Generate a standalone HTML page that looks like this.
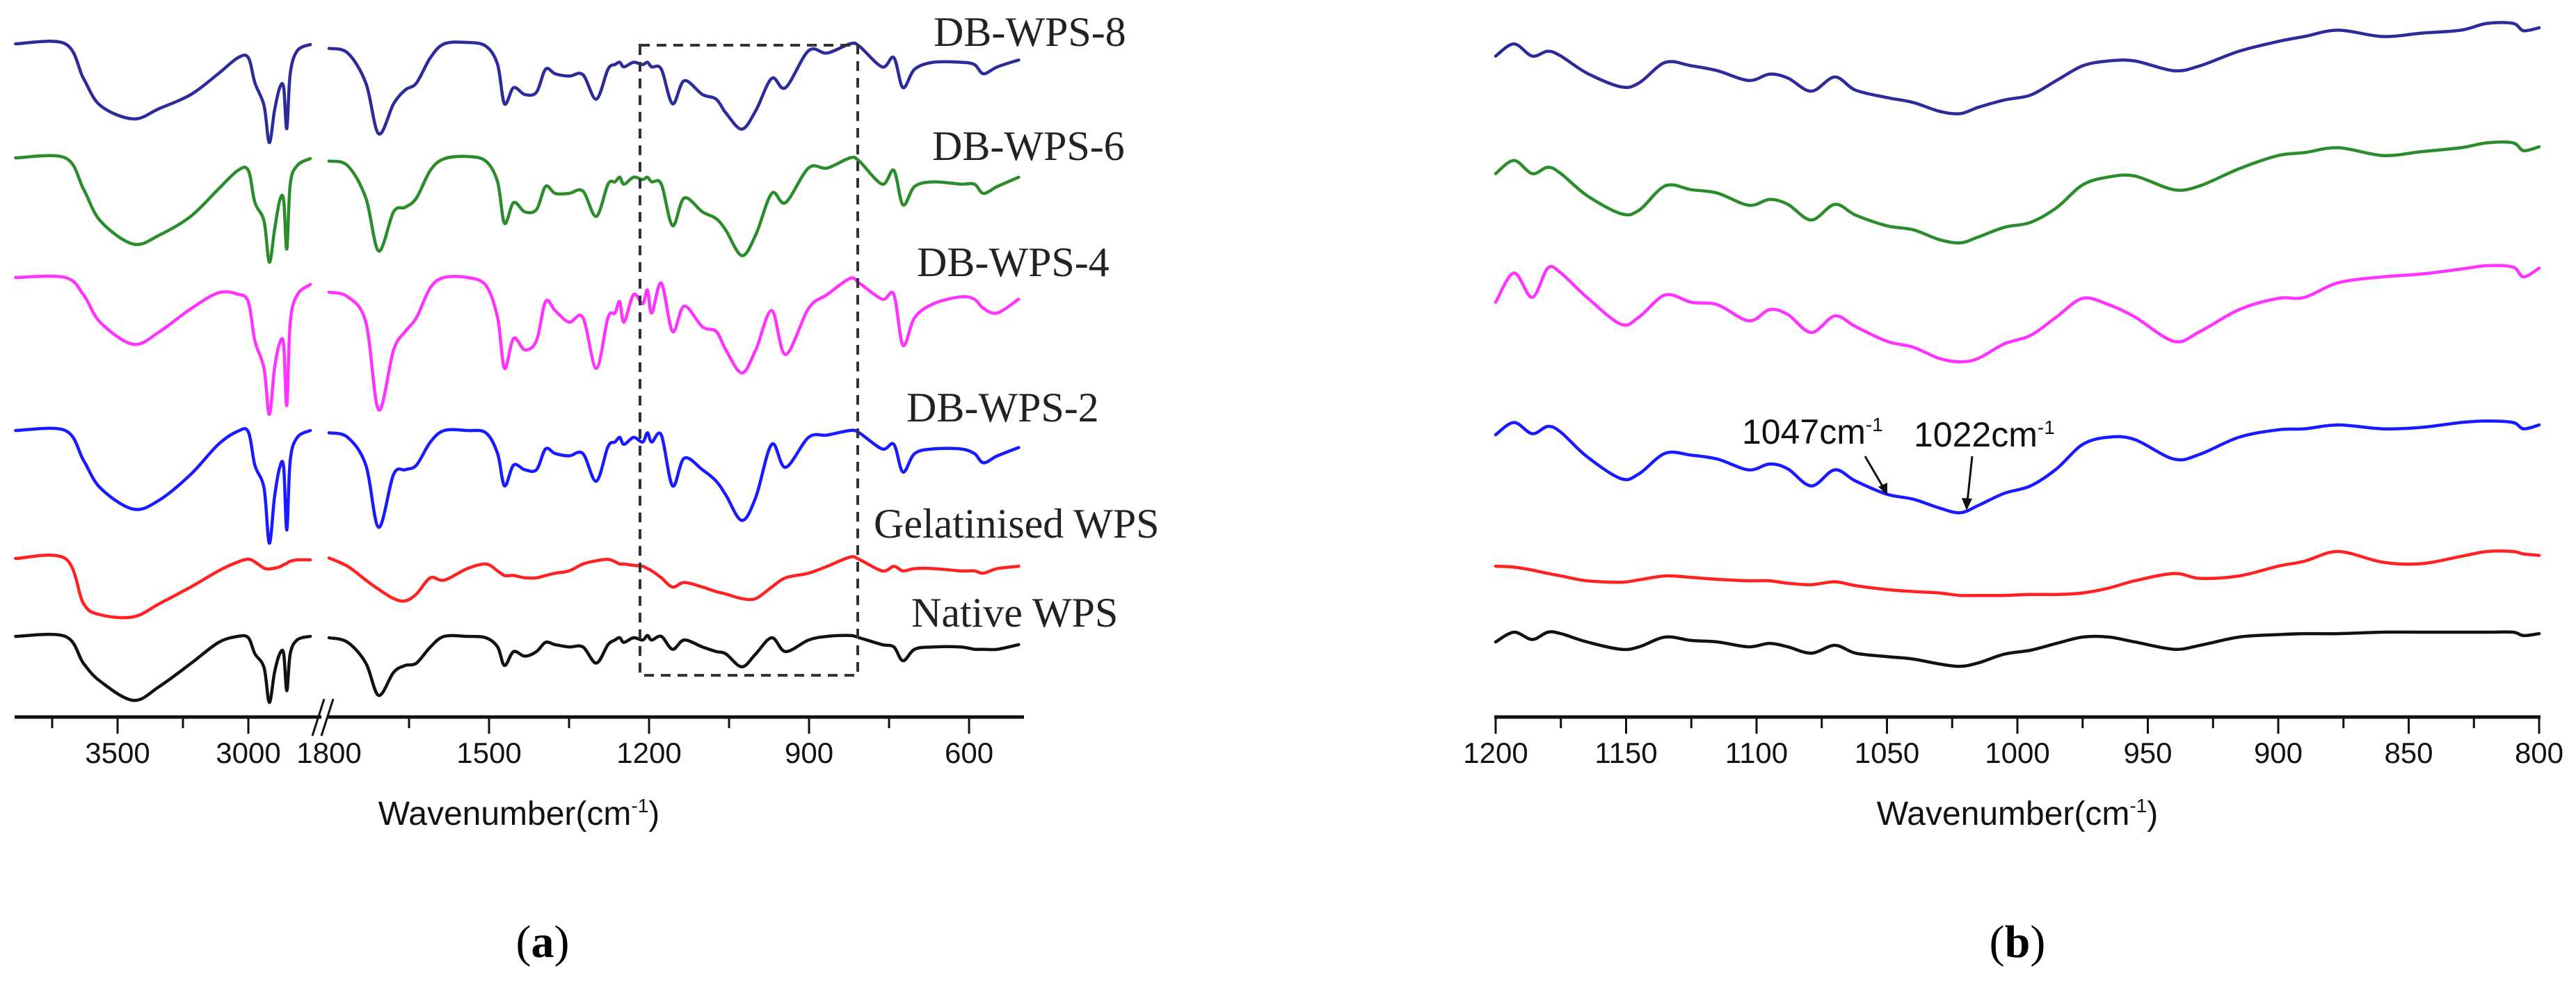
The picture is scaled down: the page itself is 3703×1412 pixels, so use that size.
<!DOCTYPE html>
<html><head><meta charset="utf-8">
<style>
html,body{margin:0;padding:0;background:#fff;}
svg{display:block;}
.tick{font-family:"Liberation Sans",sans-serif;font-size:42px;fill:#111;}
.ser{font-family:"Liberation Serif",serif;font-size:60px;fill:#222;}
</style></head>
<body>
<svg id="fig" width="3703" height="1412" viewBox="0 0 3703 1412" xmlns="http://www.w3.org/2000/svg">
<g id="pa"></g>
<g id="pb"></g>
<rect x="920" y="65" width="313" height="906" fill="none" stroke="#333" stroke-width="4" stroke-dasharray="14 10"/>
<text class="ser" x="1342" y="66">DB-WPS-8</text>
<text class="ser" x="1340" y="230">DB-WPS-6</text>
<text class="ser" x="1318" y="397">DB-WPS-4</text>
<text class="ser" x="1303" y="606">DB-WPS-2</text>
<text class="ser" x="1256" y="773">Gelatinised WPS</text>
<text class="ser" x="1310" y="901">Native WPS</text>
<text x="746" y="1186" text-anchor="middle" font-family="Liberation Sans, sans-serif" font-size="48" fill="#111">Wavenumber(cm<tspan dy="-18" font-size="28">-1</tspan><tspan dy="18">)</tspan></text>
<text x="2900" y="1186" text-anchor="middle" font-family="Liberation Sans, sans-serif" font-size="48" fill="#111">Wavenumber(cm<tspan dy="-18" font-size="28">-1</tspan><tspan dy="18">)</tspan></text>
<text x="780" y="1376" text-anchor="middle" font-family="Liberation Serif, serif" font-size="66" fill="#000">(<tspan font-weight="bold">a</tspan>)</text>
<text x="2900" y="1376" text-anchor="middle" font-family="Liberation Serif, serif" font-size="66" fill="#000">(<tspan font-weight="bold">b</tspan>)</text>
<text x="2504" y="638" font-family="Liberation Sans, sans-serif" font-size="50" fill="#111">1047cm<tspan dy="-18" font-size="28">-1</tspan></text>
<text x="2751" y="642" font-family="Liberation Sans, sans-serif" font-size="50" fill="#111">1022cm<tspan dy="-18" font-size="28">-1</tspan></text>
<line x1="2681" y1="656" x2="2709" y2="704" stroke="#111" stroke-width="3"/>
<polygon points="2713,712 2700,700 2713,694" fill="#111"/>
<line x1="2835" y1="656" x2="2828" y2="722" stroke="#111" stroke-width="3"/>
<polygon points="2827,734 2820,716 2835,717" fill="#111"/>
</svg>
<script>
// ---------- Panel (a) data ----------
const leftWn = [3890,3700,3630,3565,3440,3340,3220,3115,3040,3000,2975,2940,2920,2900,2880,2865,2853,2840,2813,2763];
const rightWn = [1800,1765,1731,1707,1679,1657,1636,1610,1584,1541,1506,1484,1471,1454,1433,1411,1394,1376,1350,1324,1299,1277,1264,1255,1247,1229,1212,1203,1195,1177,1156,1134,1100,1074,1056,1026,1000,970,944,901,866,823,806,763,741,724,702,667,616,590,573,547,507];
const seriesNames = ["DB-WPS-8","DB-WPS-6","DB-WPS-4","DB-WPS-2","Gelatinised WPS","Native WPS"];
const leftDepth8 = [0,0,50,89,108,93,73,43,20,20,56,89,142,96,63,63,122,43,10,1];
const leftDepth6 = [0,0,45,91,124,111,84,45,18,18,64,91,150,104,61,61,131,38,11,1];
const leftDepth4 = [0,0,25,65,96,78,45,22,24,35,91,131,197,131,94,97,184,65,25,10];
const leftDepth2 = [0,0,43,83,113,100,63,20,1,2,50,83,162,96,53,53,143,43,10,0];
const leftDepthGel = [0,0,65,81,84,65,41,18,5,1,5,14,15,14,12,9,7,4,2,2];
const leftDepthNat = [0,0,39,65,92,72,39,9,0,2,25,45,95,52,25,25,78,25,5,0];
const rightDepth8 = [10,20,85,195,130,100,85,30,0,-3,5,45,130,95,110,105,55,65,70,67,120,55,45,40,50,40,45,40,50,55,130,80,110,120,150,185,145,75,95,15,20,0,5,50,30,95,55,40,40,45,65,50,35];
const rightDepth6 = [7,17,87,202,117,107,87,27,2,-3,7,52,142,97,117,112,62,77,77,72,127,57,52,42,57,42,47,42,52,57,147,87,117,132,157,212,167,77,97,22,22,0,7,57,27,102,62,52,57,57,77,62,42];
const rightDepth4 = [32,42,97,287,157,117,87,22,0,0,17,87,197,132,157,137,52,72,97,87,197,87,77,52,97,37,57,27,77,12,117,62,107,117,157,207,157,72,167,67,37,2,12,47,37,147,87,57,42,47,67,77,47];
const rightDepth2 = [5,15,75,210,95,85,75,25,0,0,5,50,120,75,85,85,40,50,55,50,110,35,25,15,30,15,25,5,25,10,120,60,85,110,140,195,145,30,80,15,10,0,5,40,30,90,50,40,40,50,70,55,37];
const rightDepthGel = [-1,17,47,67,87,92,77,42,47,22,12,27,37,37,42,42,37,32,27,12,5,2,7,12,12,15,17,22,27,42,62,52,62,72,77,87,87,62,42,32,17,-3,2,27,17,27,22,22,27,27,32,22,17];
const rightDepthNat = [3,13,58,128,78,63,58,23,0,0,3,23,63,33,43,33,13,18,23,23,58,18,8,3,13,3,8,-2,8,0,28,8,23,33,38,66,38,3,33,8,0,-2,3,18,23,53,28,23,23,28,28,28,18];
const ticksLeft = [3500,3000];
const ticksLeftMinor = [3750,3250];
const ticksRight = [1500,1200,900,600];
const ticksRightMinor = [1650,1350,1050,750];
// ---------- Panel (b) data ----------
const bWn = [1200,1193,1186,1180,1175,1165,1152,1145,1135,1125,1115,1103,1095,1088,1079,1070,1062,1050,1040,1030,1022,1015,1005,995,985,975,965,955,940,930,915,900,890,877,860,845,830,820,810,806,800];
const bDepth8 = [65,40,65,55,65,100,128,120,78,85,95,115,102,110,137,108,135,150,160,178,183,170,155,145,115,85,75,75,95,85,55,35,25,12,25,18,12,-2,-2,13,7];
const bDepth6 = [65,38,65,52,65,110,147,140,90,98,105,130,118,128,160,128,150,172,180,200,207,195,175,165,135,88,72,70,98,90,55,28,22,12,28,20,12,2,2,18,10];
const bDepth4 = [75,15,65,5,15,65,120,105,60,75,80,113,90,100,137,103,125,155,167,190,197,190,160,143,105,67,80,105,155,135,90,67,65,35,23,17,7,0,3,23,5];
const bDepth2 = [30,5,28,13,25,75,120,110,68,72,80,102,90,100,135,102,125,152,162,180,190,175,150,135,100,50,35,40,80,70,35,20,18,10,18,15,5,2,5,18,10];
const bDepthGel = [30,32,38,45,50,60,63,58,50,53,57,60,60,65,68,62,70,78,82,85,90,90,90,88,88,85,75,60,45,55,50,30,20,0,22,25,10,0,0,5,8];
const bDepthNat = [20,0,15,0,3,20,35,30,10,17,20,30,23,30,43,27,43,50,55,65,70,63,45,37,23,10,10,20,35,27,10,5,3,3,0,0,0,0,0,7,3];
const bTicks = [1200,1150,1100,1050,1000,950,900,850,800];
const bTicksMinor = [1175,1125,1075,1025,975,925,875,825];

// ---------- styling / layout ----------
const colors = ["#2b2b9c","#2a8c2a","#ff33ff","#1a1aff","#ff2222","#111111"];
const keys = ["db-wps-8","db-wps-6","db-wps-4","db-wps-2","gelatinised-wps","native-wps"];
const baseA = [63,227,399,619,803,915];
const baseB = [35,204,382,604,793,909];
const AXY = 1031;
const NS = "http://www.w3.org/2000/svg";
const xL = wn => 169 + (3500 - wn) * 0.376;
const xR = wn => 473 + (1800 - wn) * 0.7667;
const xB = wn => 2150 + (1200 - wn) * 3.75;

function smoothPath(pts){
  let d = "M" + pts[0][0].toFixed(1) + "," + pts[0][1].toFixed(1);
  for(let i=0;i<pts.length-1;i++){
    const p0=pts[i-1]||pts[i], p1=pts[i], p2=pts[i+1], p3=pts[i+2]||p2;
    const c1=[p1[0]+(p2[0]-p0[0])/6, p1[1]+(p2[1]-p0[1])/6];
    const c2=[p2[0]-(p3[0]-p1[0])/6, p2[1]-(p3[1]-p1[1])/6];
    d += " C"+c1[0].toFixed(1)+","+c1[1].toFixed(1)+" "+c2[0].toFixed(1)+","+c2[1].toFixed(1)+" "+p2[0].toFixed(1)+","+p2[1].toFixed(1);
  }
  return d;
}
function addPath(parent, d, color, w){
  const p = document.createElementNS(NS,"path");
  p.setAttribute("d", d);
  p.setAttribute("fill","none");
  p.setAttribute("stroke", color);
  p.setAttribute("stroke-width", w);
  p.setAttribute("stroke-linejoin","round");
  p.setAttribute("stroke-linecap","round");
  parent.appendChild(p);
  return p;
}
function addLine(parent,x1,y1,x2,y2,w){
  const l = document.createElementNS(NS,"line");
  l.setAttribute("x1",x1);l.setAttribute("y1",y1);l.setAttribute("x2",x2);l.setAttribute("y2",y2);
  l.setAttribute("stroke","#111");l.setAttribute("stroke-width",w);
  parent.appendChild(l);
  return l;
}
function addText(parent,x,y,str){
  const t = document.createElementNS(NS,"text");
  t.setAttribute("x",x);t.setAttribute("y",y);
  t.setAttribute("text-anchor","middle");
  t.setAttribute("class","tick");
  t.textContent = str;
  parent.appendChild(t);
  return t;
}

const pa = document.getElementById("pa");
const pb = document.getElementById("pb");
const leftSets = [leftDepth8,leftDepth6,leftDepth4,leftDepth2,leftDepthGel,leftDepthNat];
const rightSets = [rightDepth8,rightDepth6,rightDepth4,rightDepth2,rightDepthGel,rightDepthNat];
const bSets = [bDepth8,bDepth6,bDepth4,bDepth2,bDepthGel,bDepthNat];

for(let s=0;s<6;s++){
  const lp = leftWn.map((w,i)=>[xL(w), baseA[s] + leftSets[s][i]]);
  const pl = addPath(pa, smoothPath(lp), colors[s], 4.5);
  
  
  const rp = rightWn.map((w,i)=>[xR(w), baseA[s] + rightSets[s][i]*0.663]);
  const pr = addPath(pa, smoothPath(rp), colors[s], 4.5);
  
  
  const bp = bWn.map((w,i)=>[xB(w), baseB[s] + bSets[s][i]/1.425]);
  const pbb = addPath(pb, smoothPath(bp), colors[s], 4.5);
  
  
}

// axis a
const axA1 = addLine(pa, 21, AXY, 462, AXY, 5);


const axA2 = addLine(pa, 470, AXY, 1472, AXY, 5);


const br1 = addLine(pa, 449, 1058, 466, 1005, 3);


const br2 = addLine(pa, 462, 1058, 479, 1005, 3);


ticksLeft.forEach(w=>{
  const l = addLine(pa, xL(w), AXY, xL(w), AXY+24, 3);
  
  
  const t = addText(pa, xL(w), 1097, String(w));
  
  
});
ticksLeftMinor.forEach(w=>{
  const l = addLine(pa, xL(w), AXY, xL(w), AXY+16, 3);
  
  
});
const t1800 = addText(pa, 473, 1097, "1800");


ticksRight.forEach(w=>{
  const l = addLine(pa, xR(w), AXY, xR(w), AXY+24, 3);
  
  
  const t = addText(pa, xR(w), 1097, String(w));
  
  
});
ticksRightMinor.forEach(w=>{
  const l = addLine(pa, xR(w), AXY, xR(w), AXY+16, 3);
  
  
});

// axis b
const axB = addLine(pb, xB(1200)-2, AXY, xB(800)+2, AXY, 5);


bTicks.forEach(w=>{
  const l = addLine(pb, xB(w), AXY, xB(w), AXY+24, 3);
  
  
  const t = addText(pb, xB(w), 1097, String(w));
  
  
});
bTicksMinor.forEach(w=>{
  const l = addLine(pb, xB(w), AXY, xB(w), AXY+16, 3);
  
  
});
</script>
</body></html>
